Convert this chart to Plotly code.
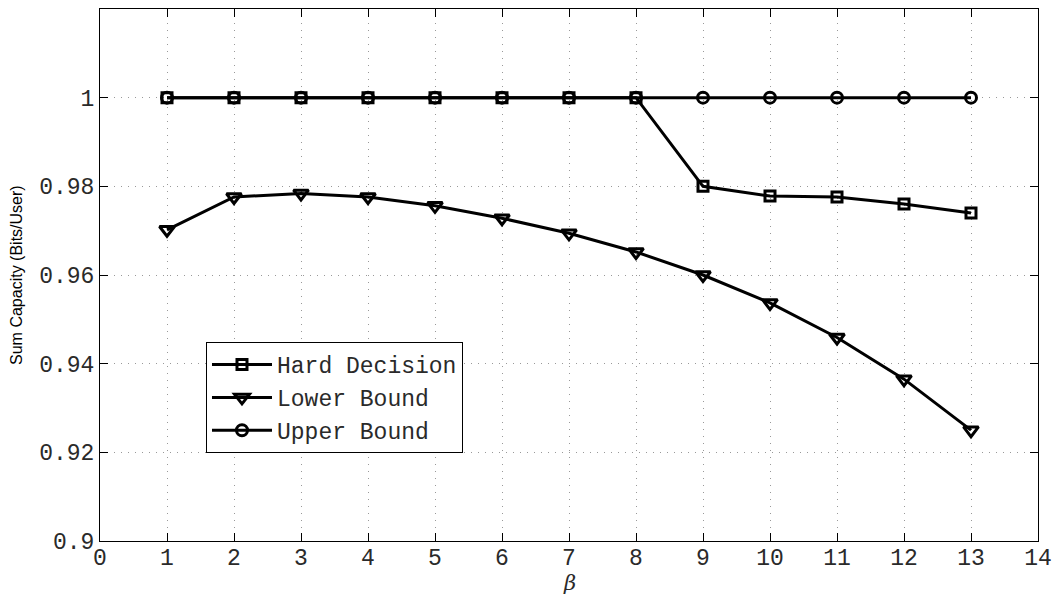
import plotly.graph_objects as go

beta = [1, 2, 3, 4, 5, 6, 7, 8, 9, 10, 11, 12, 13]
hard_decision = [1.0, 1.0, 1.0, 1.0, 1.0, 1.0, 1.0, 1.0, 0.9800, 0.9778, 0.9776, 0.9760, 0.9740]
lower_bound = [0.9702, 0.9776, 0.9784, 0.9776, 0.9756, 0.9728, 0.9694, 0.9652, 0.9600, 0.9537, 0.9459, 0.9365, 0.9250]
upper_bound = [1.0, 1.0, 1.0, 1.0, 1.0, 1.0, 1.0, 1.0, 1.0, 1.0, 1.0, 1.0, 1.0]

y_ticks = [0.9, 0.92, 0.94, 0.96, 0.98, 1.0]
y_tick_text = ["0.9", "0.92", "0.94", "0.96", "0.98", "1"]
x_ticks = list(range(0, 15))

mono = "Liberation Mono, Courier New, monospace"

fig = go.Figure()
series = [
    ("Hard Decision", hard_decision, "square-open", 10),
    ("Lower Bound", lower_bound, "triangle-down-open", 13),
    ("Upper Bound", upper_bound, "circle-open", 11),
]
for name, vals, sym, sz in series:
    fig.add_trace(go.Scatter(
        x=beta, y=vals, name=name, mode="lines+markers",
        line=dict(color="black", width=3),
        marker=dict(symbol=sym, size=sz, color="black",
                    line=dict(color="black", width=3)),
    ))

axis_common = dict(
    showline=True, linecolor="black", linewidth=1, mirror="ticks",
    ticks="inside", ticklen=8, tickcolor="black",
    showgrid=True, gridcolor="#999999", griddash="1px,6px", gridwidth=1,
    zeroline=False, automargin=False,
    tickfont=dict(family=mono, size=23, color="#2a2a2a"),
)

fig.update_layout(
    width=1052, height=596,
    margin=dict(l=100, r=14, t=9, b=55),
    paper_bgcolor="white", plot_bgcolor="white",
    showlegend=True,
    legend=dict(
        x=0.113, y=0.374, xanchor="left", yanchor="top",
        bgcolor="white", bordercolor="black", borderwidth=1,
        font=dict(family=mono, size=23, color="#2a2a2a"),
        itemwidth=60, tracegroupgap=0,
    ),
    xaxis=dict(range=[0, 14], tickvals=x_ticks, ticklabelstandoff=-5, **axis_common),
    yaxis=dict(range=[0.9, 1.02], tickvals=y_ticks, ticktext=y_tick_text, **axis_common),
    annotations=[
        dict(text="Sum Capacity (Bits/User)", xref="paper", yref="paper",
             x=-0.0896, y=0.5, xanchor="center", yanchor="middle",
             textangle=-90, showarrow=False,
             font=dict(family="Liberation Sans, Arial, sans-serif", size=16, color="black")),
        dict(text="<i>β</i>", xref="paper", yref="paper",
             x=0.5, y=-0.079, xanchor="center", yanchor="middle",
             showarrow=False,
             font=dict(family="DejaVu Serif, serif", size=21, color="#2a2a2a")),
    ],
)

fig.write_html(
    "out.html",
    config={"displayModeBar": False},
    post_script="document.body.style.margin='0';document.body.style.overflow='hidden';",
)
